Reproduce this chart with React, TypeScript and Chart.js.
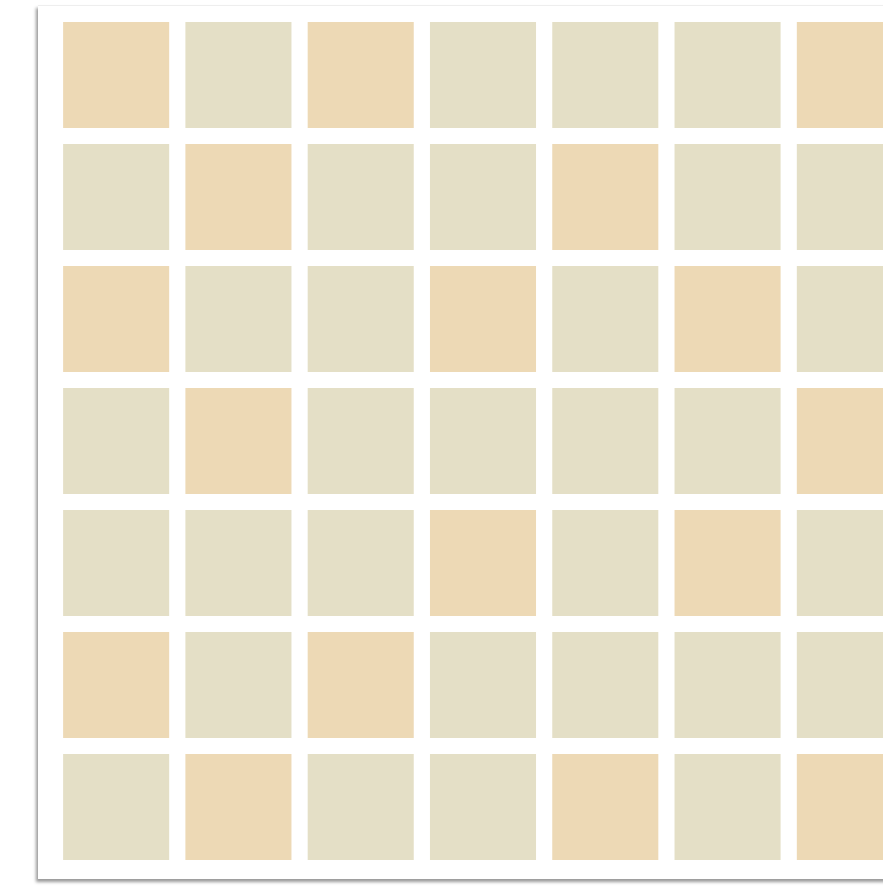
import React, { useEffect, useRef } from "react";
import { Chart, registerables } from "chart.js";

Chart.register(...registerables);

// Grid categories
const columns = [1, 2, 3, 4, 5, 6, 7];
const rows = [1, 2, 3, 4, 5, 6, 7];

// Tile values per row: 1 = peach tile, 0 = beige tile
const row1 = [1, 0, 1, 0, 0, 0, 1];
const row2 = [0, 1, 0, 0, 1, 0, 0];
const row3 = [1, 0, 0, 1, 0, 1, 0];
const row4 = [0, 1, 0, 0, 0, 0, 1];
const row5 = [0, 0, 0, 1, 0, 1, 0];
const row6 = [1, 0, 1, 0, 0, 0, 0];
const row7 = [0, 1, 0, 0, 1, 0, 1];

const grid = [row1, row2, row3, row4, row5, row6, row7];

const PEACH = "#EDD9B5";
const BEIGE = "#E4DFC6";

export default function App() {
  const ref = useRef<HTMLCanvasElement | null>(null);

  useEffect(() => {
    if (!ref.current) return;
    const points: { x: number; y: number; v: number }[] = [];
    rows.forEach((r, ri) => {
      columns.forEach((c, ci) => {
        points.push({ x: c, y: r, v: grid[ri][ci] });
      });
    });
    const chart = new Chart(ref.current, {
      type: "scatter",
      data: {
        datasets: [
          {
            data: points,
            pointStyle: "rect",
            pointRadius: 75,
            pointHoverRadius: 75,
            borderWidth: 0,
            pointBorderWidth: 0,
            backgroundColor: points.map((p) => (p.v ? PEACH : BEIGE)),
            pointBackgroundColor: points.map((p) => (p.v ? PEACH : BEIGE)),
            clip: false,
          } as any,
        ],
      },
      options: {
        animation: false,
        responsive: false,
        maintainAspectRatio: false,
        events: [],
        layout: { padding: 0, autoPadding: false },
        plugins: { legend: { display: false }, tooltip: { enabled: false } },
        scales: {
          x: { type: "linear", min: 0.5, max: 7.5, display: false },
          y: { type: "linear", min: 0.5, max: 7.5, reverse: true, display: false },
        },
      },
    });
    return () => chart.destroy();
  }, []);

  return (
    <div
      style={{
        position: "absolute",
        left: 0,
        top: 0,
        width: 883,
        height: 887,
        overflow: "hidden",
        background: "#ffffff",
      }}
    >
      <div
        style={{
          position: "absolute",
          left: 38,
          top: 5,
          width: 920,
          height: 873,
          background: "#ffffff",
          boxShadow: "-2px 3px 3px rgba(0,0,0,0.4)",
          borderTop: "1px solid #eeeeee",
        }}
      />
      <canvas
        ref={ref}
        width={856}
        height={854}
        style={{ position: "absolute", left: 55, top: 14, width: 856, height: 854 }}
      />
    </div>
  );
}
